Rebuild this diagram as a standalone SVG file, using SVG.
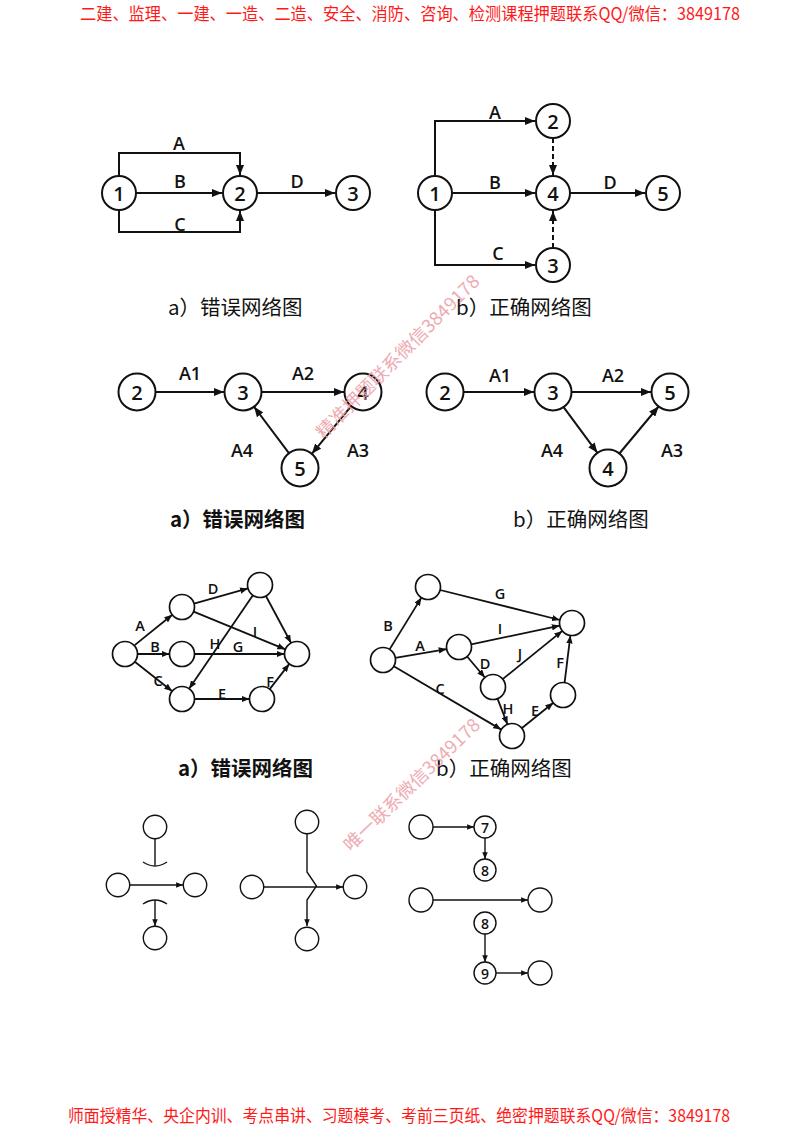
<svg xmlns="http://www.w3.org/2000/svg" width="800" height="1132" viewBox="0 0 800 1132">
<style>
.hdr{font-family:"Noto Sans CJK SC","Noto Sans",sans-serif;font-size:17px;fill:#ff1a1a}
.cap{font-family:"Noto Sans CJK SC","Noto Sans",sans-serif;font-size:20.5px;fill:#111}
.capb{font-family:"Noto Sans CJK SC","Noto Sans",sans-serif;font-size:20.5px;fill:#111;font-weight:700}
.wm{font-family:"Noto Sans CJK SC",sans-serif;font-size:18px;fill:#eda3ac;opacity:0.9}
.nd{fill:#fff;stroke:#111;stroke-width:2}
.ns{fill:#fff;stroke:#111;stroke-width:1.7}
.nt{font-family:"Open Sans","Liberation Sans",sans-serif;font-size:20px;font-weight:600;fill:#111;text-anchor:middle;dominant-baseline:central}
.nts{font-family:"Open Sans","Liberation Sans",sans-serif;font-size:14px;font-weight:600;fill:#111;text-anchor:middle;dominant-baseline:central}
.el{font-family:"Open Sans","Liberation Sans",sans-serif;font-size:18px;font-weight:600;fill:#111;text-anchor:middle;dominant-baseline:central}
.els{font-family:"Open Sans","Liberation Sans",sans-serif;font-size:14.5px;font-weight:600;fill:#111;text-anchor:middle;dominant-baseline:central}
.eL{fill:none;stroke:#111;stroke-width:2;marker-end:url(#aL)}
.eD{fill:none;stroke:#111;stroke-width:2;stroke-dasharray:5 3;marker-end:url(#aL)}
.eM{fill:none;stroke:#111;stroke-width:1.8;marker-end:url(#aM)}
.eS{fill:none;stroke:#111;stroke-width:1.4;marker-end:url(#aS)}
.s{fill:none;stroke:#111;stroke-width:1.4}
</style>
<defs>
<marker id="aL" markerUnits="userSpaceOnUse" viewBox="0 0 10 8" markerWidth="10" markerHeight="8" refX="10" refY="4" orient="auto"><path d="M0,0L10,4L0,8z" fill="#111"/></marker>
<marker id="aM" markerUnits="userSpaceOnUse" viewBox="0 0 10 8" markerWidth="8" markerHeight="6.5" refX="10" refY="4" orient="auto"><path d="M0,0L10,4L0,8z" fill="#111"/></marker>
<marker id="aS" markerUnits="userSpaceOnUse" viewBox="0 0 10 8" markerWidth="7" markerHeight="5.5" refX="10" refY="4" orient="auto"><path d="M0,0L10,4L0,8z" fill="#111"/></marker>
</defs>
<rect width="800" height="1132" fill="#fff"/>

<g id="header"><text class="hdr" x="80" y="20" textLength="660" lengthAdjust="spacingAndGlyphs">二建、监理、一建、一造、二造、安全、消防、咨询、检测课程押题联系QQ/微信：3849178</text></g>
<g id="footer"><text class="hdr" x="68" y="1122" textLength="662" lengthAdjust="spacingAndGlyphs">师面授精华、央企内训、考点串讲、习题模考、考前三页纸、绝密押题联系QQ/微信：3849178</text></g>

<g id="connectors">
  <!-- 1a -->
  <path class="eL" d="M119,176V153H240V175"/>
  <path class="eL" d="M136,193H222"/>
  <path class="eL" d="M119,210V232H240V211"/>
  <path class="eL" d="M257,193H335"/>
  <!-- 1b -->
  <path class="eL" d="M435,176V121H535"/>
  <path class="eL" d="M452,193H535"/>
  <path class="eL" d="M435,210V265H535"/>
  <path class="eL" d="M570,193H645"/>
  <path class="eD" d="M553,138V175"/>
  <path class="eD" d="M553,248V211"/>
  <!-- 2a -->
  <path class="eL" d="M155.5,392H224"/>
  <path class="eL" d="M261.5,392H344"/>
  <path class="eL" d="M351.2,406.2L311.8,453.8"/>
  <path class="eL" d="M288.9,453.2L254.1,406.8"/>
  <!-- 2b -->
  <path class="eL" d="M463.5,392H534"/>
  <path class="eL" d="M571.5,392H651"/>
  <path class="eL" d="M563.6,407.2L597.4,452.8"/>
  <path class="eL" d="M619.4,453.5L658.6,406.5"/>
  <!-- 3a -->
  <path class="eM" d="M134.7,645.1L172.3,614.8"/>
  <path class="eM" d="M137.5,654H169.5"/>
  <path class="eM" d="M134.8,661.8L172.2,691.2"/>
  <path class="eM" d="M194,603.6L248,588.4"/>
  <path class="eM" d="M193.6,611.7L285.4,649.3"/>
  <path class="eM" d="M194.5,654H284.5"/>
  <path class="eM" d="M252.9,595.3L189.1,688.7"/>
  <path class="eM" d="M265.9,596L291.1,643"/>
  <path class="eM" d="M194.5,699H249.5"/>
  <path class="eM" d="M269.7,689.1L289.3,663.9"/>
  <!-- 3b -->
  <path class="eM" d="M389.6,649.4L421.4,597.6"/>
  <path class="eM" d="M395.3,657.9L446.7,649.1"/>
  <path class="eM" d="M393.8,666.3L501.2,729.6"/>
  <path class="eM" d="M440.1,590L559.9,620"/>
  <path class="eM" d="M471.2,644.4L559.8,625.6"/>
  <path class="eM" d="M467.1,656.5L484.9,677.5"/>
  <path class="eM" d="M502.7,679.1L562.3,630.9"/>
  <path class="eM" d="M497.5,698.6L507.5,724.4"/>
  <path class="eM" d="M521.7,728.2L553.3,702.8"/>
  <path class="eM" d="M564.6,682.6L570.4,635.4"/>
  <!-- 4 left -->
  <path class="s" d="M155,838.5V865"/>
  <path class="s" d="M143,862Q155,870 167,862"/>
  <path class="eS" d="M130,885H183"/>
  <path class="s" d="M143,904Q155,896 167,904"/>
  <path class="eS" d="M155,900V926"/>
  <!-- 4 middle -->
  <path class="eS" d="M307,834V872L316.5,886L307,900V926"/>
  <path class="eS" d="M263.5,887H343"/>
  <!-- 4 right -->
  <path class="eS" d="M433,827H474"/>
  <path class="eS" d="M485,838V859"/>
  <path class="eS" d="M433,900H528"/>
  <path class="eS" d="M485,934V962"/>
  <path class="eS" d="M496,973H528"/>
</g>

<g id="n1a-1"><circle class="nd" cx="119" cy="193" r="17"/><text class="nt" x="119" y="193">1</text></g>
<g id="n1a-2"><circle class="nd" cx="240" cy="193" r="17"/><text class="nt" x="240" y="193">2</text></g>
<g id="n1a-3"><circle class="nd" cx="353" cy="193" r="17"/><text class="nt" x="353" y="193">3</text></g>
<g id="l1a"><text class="el" x="179" y="143">A</text><text class="el" x="180" y="181">B</text><text class="el" x="180" y="224">C</text><text class="el" x="297" y="181">D</text></g>

<g id="n1b-1"><circle class="nd" cx="435" cy="193" r="17"/><text class="nt" x="435" y="193">1</text></g>
<g id="n1b-2"><circle class="nd" cx="553" cy="121" r="17"/><text class="nt" x="553" y="121">2</text></g>
<g id="n1b-4"><circle class="nd" cx="553" cy="193" r="17"/><text class="nt" x="553" y="193">4</text></g>
<g id="n1b-3"><circle class="nd" cx="553" cy="265" r="17"/><text class="nt" x="553" y="265">3</text></g>
<g id="n1b-5"><circle class="nd" cx="663" cy="193" r="17"/><text class="nt" x="663" y="193">5</text></g>
<g id="l1b"><text class="el" x="495" y="112">A</text><text class="el" x="495" y="182">B</text><text class="el" x="498" y="253">C</text><text class="el" x="610" y="182">D</text></g>

<g id="cap1"><text class="cap" x="168" y="315">a）错误网络图</text><text class="cap" x="456" y="315">b）正确网络图</text></g>

<g id="n2a-2"><circle class="nd" cx="137" cy="392" r="18.5"/><text class="nt" x="137" y="392">2</text></g>
<g id="n2a-3"><circle class="nd" cx="243" cy="392" r="18.5"/><text class="nt" x="243" y="392">3</text></g>
<g id="n2a-4"><circle class="nd" cx="363" cy="392" r="18.5"/><text class="nt" x="363" y="392">4</text></g>
<g id="n2a-5"><circle class="nd" cx="300" cy="468" r="18.5"/><text class="nt" x="300" y="468">5</text></g>
<g id="l2a"><text class="el" x="190" y="373">A1</text><text class="el" x="303" y="373">A2</text><text class="el" x="242" y="450">A4</text><text class="el" x="358" y="450">A3</text></g>

<g id="n2b-2"><circle class="nd" cx="445" cy="392" r="18.5"/><text class="nt" x="445" y="392">2</text></g>
<g id="n2b-3"><circle class="nd" cx="553" cy="392" r="18.5"/><text class="nt" x="553" y="392">3</text></g>
<g id="n2b-5"><circle class="nd" cx="670" cy="392" r="18.5"/><text class="nt" x="670" y="392">5</text></g>
<g id="n2b-4"><circle class="nd" cx="608" cy="468" r="18.5"/><text class="nt" x="608" y="468">4</text></g>
<g id="l2b"><text class="el" x="500" y="375">A1</text><text class="el" x="613" y="375">A2</text><text class="el" x="552" y="450">A4</text><text class="el" x="672" y="450">A3</text></g>

<g id="cap2"><text class="capb" x="170" y="527">a）错误网络图</text><text class="cap" x="513" y="527">b）正确网络图</text></g>

<g id="n3a-0"><circle class="ns" cx="125" cy="654" r="12.5"/></g>
<g id="n3a-A"><circle class="ns" cx="182" cy="607" r="12.5"/></g>
<g id="n3a-B"><circle class="ns" cx="182" cy="654" r="12.5"/></g>
<g id="n3a-C"><circle class="ns" cx="182" cy="699" r="12.5"/></g>
<g id="n3a-D"><circle class="ns" cx="260" cy="585" r="12.5"/></g>
<g id="n3a-E"><circle class="ns" cx="262" cy="699" r="12.5"/></g>
<g id="n3a-R"><circle class="ns" cx="297" cy="654" r="12.5"/></g>
<g id="l3a"><text class="els" x="140" y="625">A</text><text class="els" x="155" y="646">B</text><text class="els" x="158" y="680">C</text><text class="els" x="213" y="588">D</text><text class="els" x="215" y="643">H</text><text class="els" x="238" y="646">G</text><text class="els" x="255" y="631">I</text><text class="els" x="222" y="693">E</text><text class="els" x="270" y="681">F</text></g>

<g id="n3b-1"><circle class="ns" cx="383" cy="660" r="12.5"/></g>
<g id="n3b-2"><circle class="ns" cx="428" cy="587" r="12.5"/></g>
<g id="n3b-3"><circle class="ns" cx="459" cy="647" r="12.5"/></g>
<g id="n3b-4"><circle class="ns" cx="493" cy="687" r="12.5"/></g>
<g id="n3b-5"><circle class="ns" cx="512" cy="736" r="12.5"/></g>
<g id="n3b-6"><circle class="ns" cx="563" cy="695" r="12.5"/></g>
<g id="n3b-7"><circle class="ns" cx="572" cy="623" r="12.5"/></g>
<g id="l3b"><text class="els" x="388" y="625">B</text><text class="els" x="500" y="593">G</text><text class="els" x="420" y="645">A</text><text class="els" x="500" y="628">I</text><text class="els" x="485" y="663">D</text><text class="els" x="520" y="653">J</text><text class="els" x="440" y="688">C</text><text class="els" x="508" y="708">H</text><text class="els" x="535" y="710">E</text><text class="els" x="560" y="662">F</text></g>

<g id="cap3"><text class="capb" x="178" y="776">a）错误网络图</text><text class="cap" x="436" y="776">b）正确网络图</text></g>

<g id="n4a-t"><circle class="s" cx="155" cy="827" r="11.7"/></g>
<g id="n4a-l"><circle class="s" cx="118" cy="885" r="11.7"/></g>
<g id="n4a-r"><circle class="s" cx="195" cy="885" r="11.7"/></g>
<g id="n4a-b"><circle class="s" cx="155" cy="938" r="11.7"/></g>
<g id="n4b-t"><circle class="s" cx="307" cy="822" r="11.7"/></g>
<g id="n4b-l"><circle class="s" cx="252" cy="887" r="11.7"/></g>
<g id="n4b-r"><circle class="s" cx="355" cy="887" r="11.7"/></g>
<g id="n4b-b"><circle class="s" cx="307" cy="939" r="11.7"/></g>
<g id="n4c-l1"><circle class="s" cx="421" cy="827" r="12"/></g>
<g id="n4c-7"><circle class="s" cx="485" cy="827" r="11"/><text class="nts" x="485" y="827">7</text></g>
<g id="n4c-8"><circle class="s" cx="485" cy="870" r="11"/><text class="nts" x="485" y="870">8</text></g>
<g id="n4c-l2"><circle class="s" cx="421" cy="900" r="12"/></g>
<g id="n4c-r2"><circle class="s" cx="540" cy="900" r="12"/></g>
<g id="n4c-8b"><circle class="s" cx="485" cy="923" r="11"/><text class="nts" x="485" y="923">8</text></g>
<g id="n4c-9"><circle class="s" cx="485" cy="973" r="11"/><text class="nts" x="485" y="973">9</text></g>
<g id="n4c-r3"><circle class="s" cx="540" cy="973" r="12"/></g>

<g id="watermarks">
  <text class="wm" text-anchor="middle" transform="translate(398,357) rotate(-45)" y="6" textLength="222" lengthAdjust="spacingAndGlyphs">精准押题联系微信3849178</text>
  <text class="wm" text-anchor="middle" transform="translate(412,785) rotate(-44)" y="6" textLength="181" lengthAdjust="spacingAndGlyphs">唯一联系微信3849178</text>
</g>
</svg>
